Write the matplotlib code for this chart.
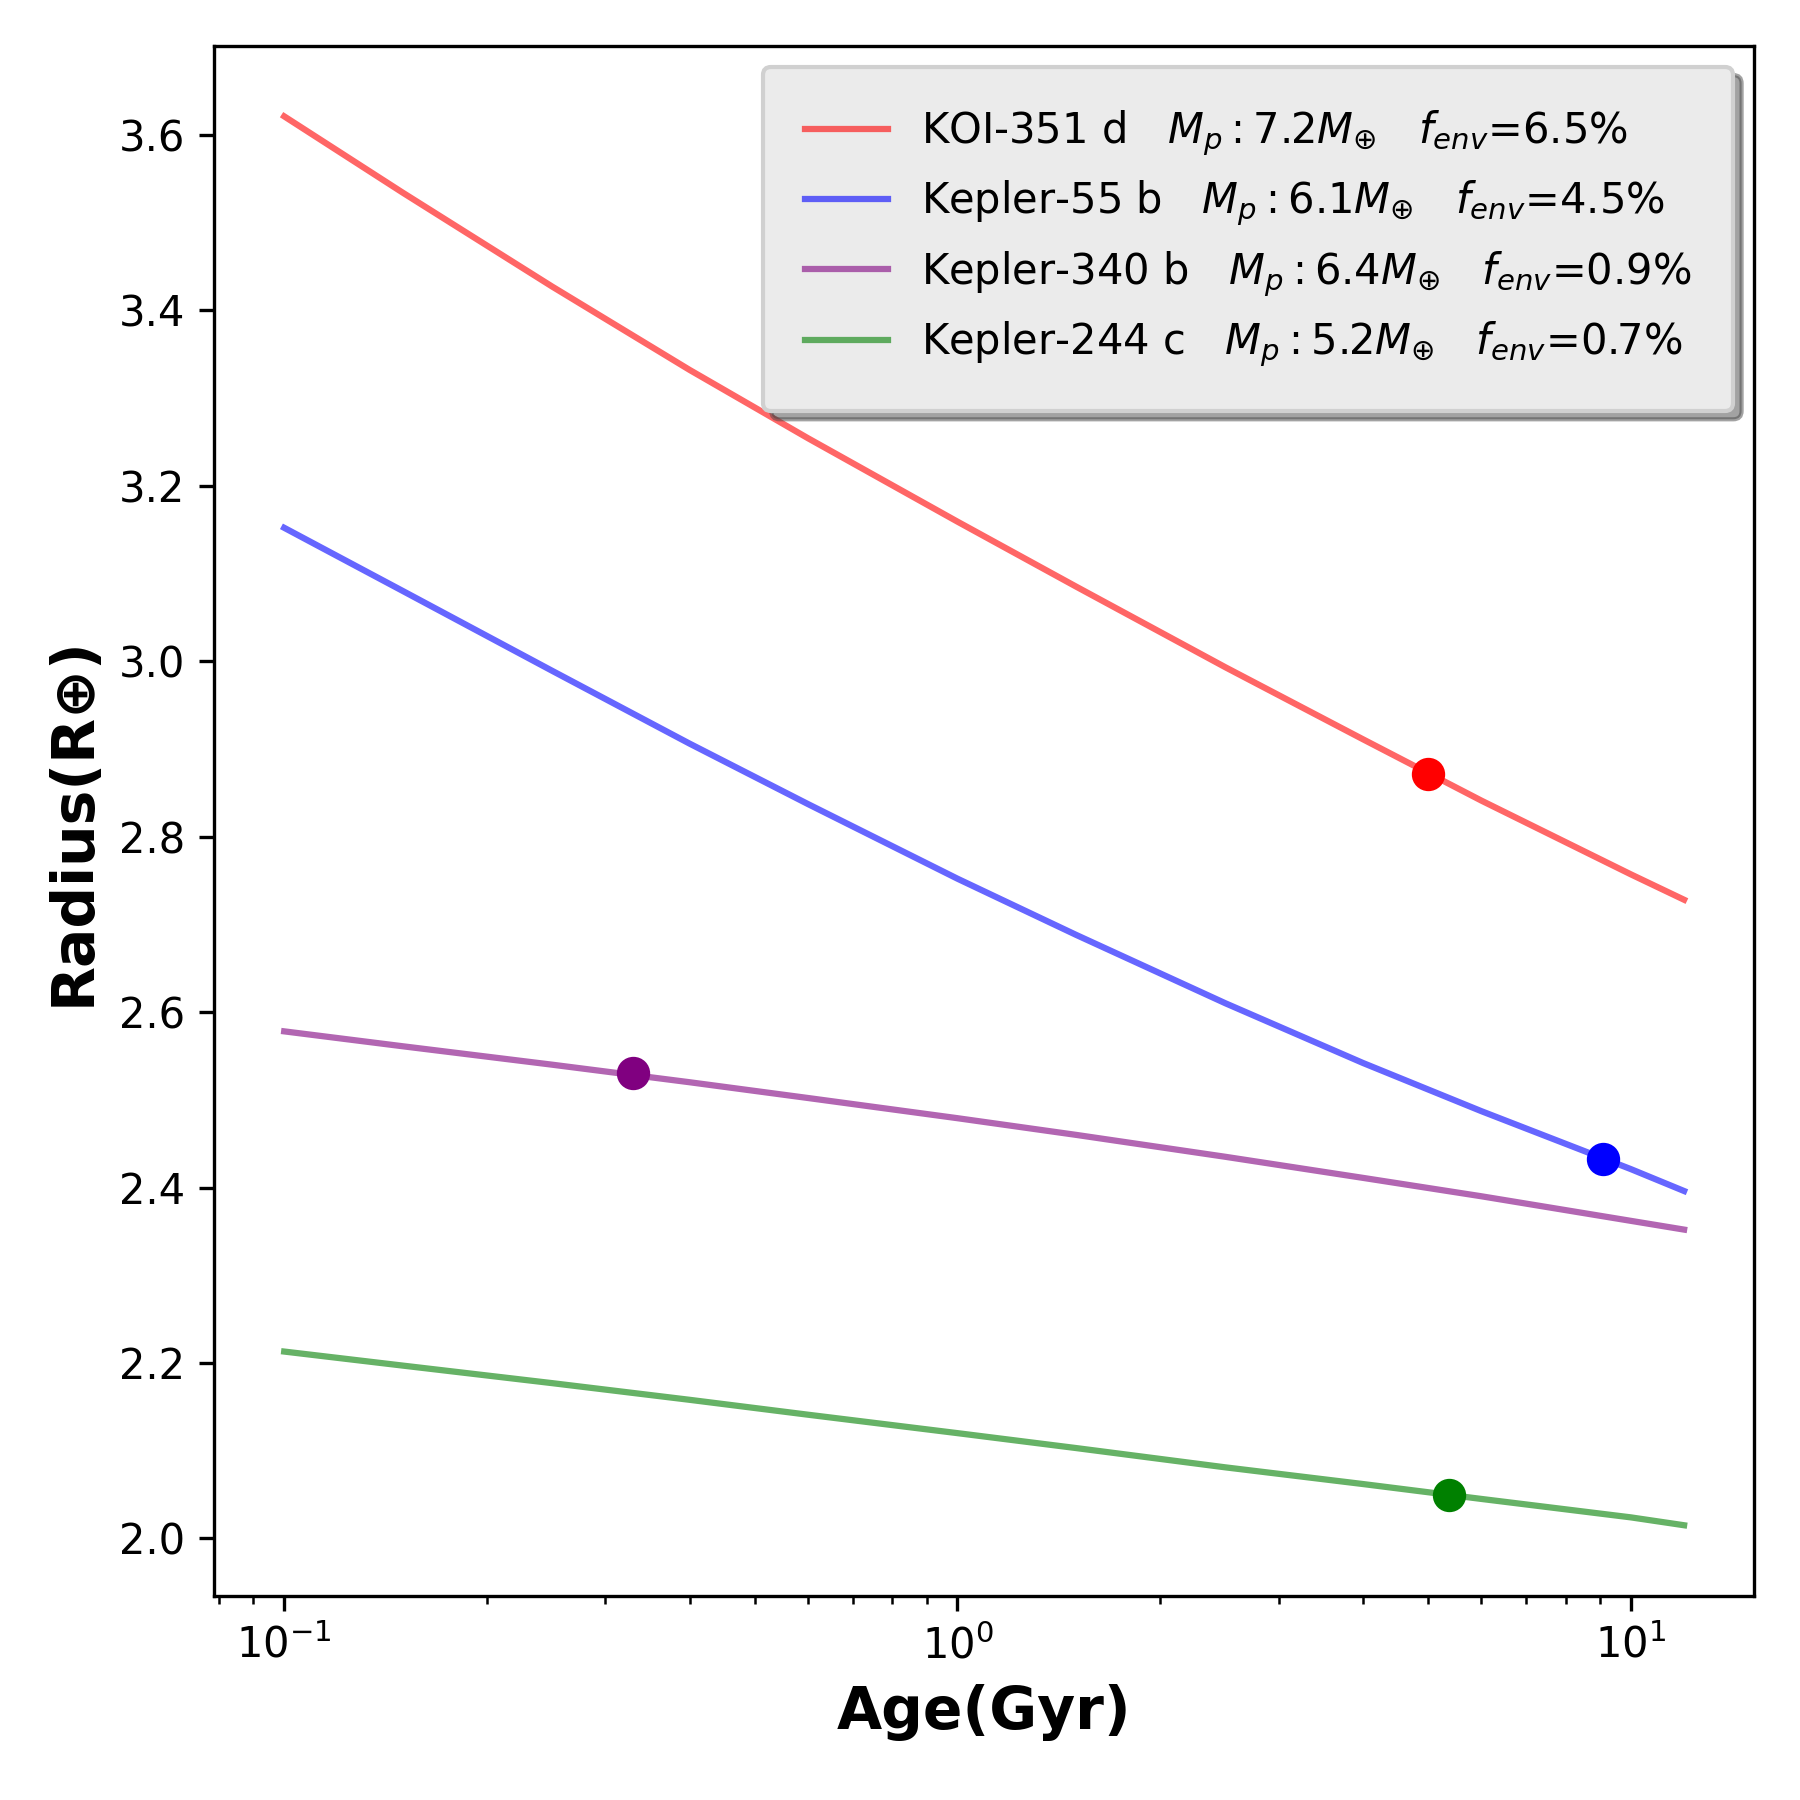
import matplotlib
matplotlib.use('Agg')
import matplotlib.pyplot as plt

# ages (Gyr) where the curves were read
ages = [0.1, 0.15, 0.25, 0.4, 0.6, 1.0, 1.5, 2.5, 4.0, 6.0, 10.0, 12.0]

# radius tracks (R_earth)
r_koi351d = [3.621, 3.534, 3.427, 3.332, 3.254, 3.159, 3.085, 2.993, 2.911, 2.841, 2.757, 2.728]
r_kep55b = [3.152, 3.080, 2.989, 2.906, 2.837, 2.752, 2.688, 2.610, 2.542, 2.487, 2.421, 2.396]
r_kep340b = [2.578, 2.561, 2.540, 2.520, 2.502, 2.479, 2.460, 2.435, 2.411, 2.390, 2.362, 2.352]
r_kep244c = [2.213, 2.197, 2.177, 2.158, 2.141, 2.120, 2.103, 2.081, 2.062, 2.045, 2.024, 2.015]

# present-day points
dot_age = [5.0, 9.1, 0.33, 5.37]
dot_rad = [2.871, 2.432, 2.530, 2.050]

labels = [r'KOI-351 d   $M_p: 7.2M_{\oplus}$   $f_{env}$=6.5%',
          r'Kepler-55 b   $M_p: 6.1M_{\oplus}$   $f_{env}$=4.5%',
          r'Kepler-340 b   $M_p: 6.4M_{\oplus}$   $f_{env}$=0.9%',
          r'Kepler-244 c   $M_p: 5.2M_{\oplus}$   $f_{env}$=0.7%']
colors = ['red', 'blue', 'purple', 'green']
tracks = [r_koi351d, r_kep55b, r_kep340b, r_kep244c]

fig, ax = plt.subplots(figsize=(6, 6), dpi=300)
fig.subplots_adjust(left=0.119, right=0.9745, top=0.9745, bottom=0.1135)

for j in range(4):
    ax.plot(ages, tracks[j], color=colors[j], alpha=0.6, lw=1.5, label=labels[j])
for j in range(4):
    ax.plot(dot_age[j], dot_rad[j], 'o', color=colors[j], ms=7)

ax.set_xscale('log')
ax.set_xlabel('Age(Gyr)', fontsize=14, fontweight='bold')
ax.set_ylabel('Radius(R⊕)', fontsize=14, fontweight='bold')

leg = ax.legend(loc='upper right', shadow=True, fancybox=True, fontsize=10,
                labelspacing=0.5, borderpad=1.0, facecolor='#ebebeb',
                edgecolor='#d0d0d0', framealpha=1)

plt.savefig('out.png', dpi=300)
